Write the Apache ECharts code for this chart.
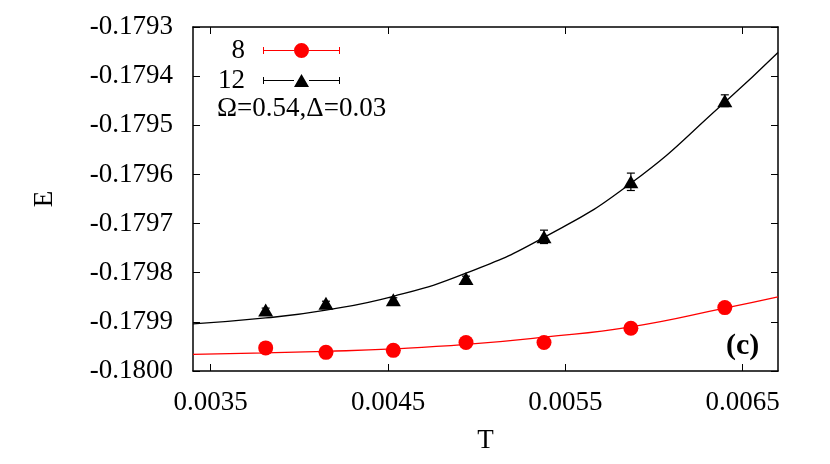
<!DOCTYPE html>
<html>
<head>
<meta charset="utf-8">
<script src="https://cdn.jsdelivr.net/npm/echarts@6/dist/echarts.min.js"></script>
<style>
html,body{margin:0;padding:0;background:#fff;}
#chart{width:830px;height:464px;}
</style>
</head>
<body>
<div id="chart"></div>
<script>
// ---- data ----
const T = [0.00381, 0.00415, 0.00453, 0.00494, 0.00538, 0.00587, 0.00640];
const E8 = [-0.179953, -0.179962, -0.179958, -0.179942, -0.179942, -0.179913, -0.179871];
const err8 = [0.000003, 0.000003, 0.000003, 0.000003, 0.000003, 0.000003, 0.000003];
const E12 = [-0.179876, -0.179862, -0.179855, -0.179812, -0.179727, -0.179615, -0.179450];
const err12 = [0.000004, 0.000004, 0.000004, 0.000005, 0.0000136, 0.0000177, 0.000012];
const fitT = [0.0034, 0.00381, 0.00415, 0.00453, 0.00494, 0.00538, 0.00587, 0.00640, 0.0067];
const fit8 = [-0.179966, -0.179963, -0.179960, -0.179955, -0.179946, -0.179931, -0.179910, -0.179872, -0.179849];
const fit12 = [-0.179904, -0.179892, -0.179876, -0.179848, -0.179801, -0.179728, -0.179618, -0.179453, -0.179352];
const xTicks = [0.0035, 0.0045, 0.0055, 0.0065];
const seriesNames = ['8', '12'];
const annotation = 'Ω=0.54,Δ=0.03';
const panelLabel = '(c)';

const FONT = 'Liberation Serif';
const FS = 27;

const pts = (xs, ys) => xs.map((x, i) => [x, ys[i]]);
const errs = (xs, ys, es) => xs.map((x, i) => [x, ys[i] - es[i], ys[i] + es[i]]);

function errorBar(color) {
  return function (params, api) {
    const x = api.value(0);
    const lo = api.coord([x, api.value(1)]);
    const hi = api.coord([x, api.value(2)]);
    const w = 4;
    const st = { stroke: color, lineWidth: 1.2 };
    return {
      type: 'group',
      children: [
        { type: 'line', shape: { x1: lo[0], y1: lo[1], x2: hi[0], y2: hi[1] }, style: st },
        { type: 'line', shape: { x1: lo[0] - w, y1: lo[1], x2: lo[0] + w, y2: lo[1] }, style: st },
        { type: 'line', shape: { x1: hi[0] - w, y1: hi[1], x2: hi[0] + w, y2: hi[1] }, style: st }
      ]
    };
  };
}

const redIcon = 'path://M0 7H31V8H0Z M46 7H77V8H46Z M0 4H1V11H0Z M76 4H77V11H76Z M31 7.5A7.5 7.5 0 1 0 46 7.5A7.5 7.5 0 1 0 31 7.5Z';
const blackIcon = 'path://M0 7H31V8H0Z M46 7H77V8H46Z M0 4H1V11H0Z M76 4H77V11H76Z M38.5 1L46 14H31Z';

const axisLineStyle = { color: '#000', width: 1.5 };
const chart = echarts.init(document.getElementById('chart'), null, { renderer: 'canvas' });
chart.setOption({
  animation: false,
  backgroundColor: '#fff',
  textStyle: { fontFamily: FONT },
  grid: { left: 193, right: 52, top: 27, bottom: 93, containLabel: false },
  legend: {
    orient: 'vertical',
    left: 213,
    top: 32,
    align: 'right',
    itemWidth: 77,
    itemHeight: 15,
    itemGap: 3,
    selectedMode: false,
    textStyle: { fontFamily: FONT, fontSize: FS, color: '#000', padding: [0, 13, 0, 0] },
    data: [
      { name: seriesNames[0], icon: redIcon, itemStyle: { color: '#ff0000' } },
      { name: seriesNames[1], icon: blackIcon, itemStyle: { color: '#000' } }
    ]
  },
  xAxis: [{
    type: 'value', min: 0.0034, max: 0.0067,
    name: 'T', nameLocation: 'middle', nameGap: 56,
    nameTextStyle: { fontFamily: FONT, fontSize: FS, color: '#000' },
    axisLine: { onZero: false, lineStyle: axisLineStyle },
    axisTick: { inside: true, length: 7, customValues: xTicks, lineStyle: { color: '#000', width: 1 } },
    axisLabel: { customValues: xTicks, margin: 18, fontFamily: FONT, fontSize: FS, color: '#000',
      formatter: v => v.toFixed(4) },
    splitLine: { show: false }
  }, {
    type: 'value', min: 0.0034, max: 0.0067, position: 'top',
    axisLine: { onZero: false, lineStyle: axisLineStyle },
    axisTick: { inside: true, length: 7, customValues: xTicks, lineStyle: { color: '#000', width: 1 } },
    axisLabel: { show: false },
    splitLine: { show: false }
  }],
  yAxis: [{
    type: 'value', min: -0.18, max: -0.1793, interval: 0.0001,
    name: 'E', nameLocation: 'middle', nameGap: 135, nameRotate: 90,
    nameTextStyle: { fontFamily: FONT, fontSize: FS, color: '#000' },
    axisLine: { onZero: false, lineStyle: axisLineStyle },
    axisTick: { inside: true, length: 7, lineStyle: { color: '#000', width: 1 } },
    axisLabel: { margin: 20, fontFamily: FONT, fontSize: FS, color: '#000',
      formatter: v => v.toFixed(4) },
    splitLine: { show: false }
  }, {
    type: 'value', min: -0.18, max: -0.1793, interval: 0.0001, position: 'right',
    axisLine: { onZero: false, lineStyle: axisLineStyle },
    axisTick: { inside: true, length: 7, lineStyle: { color: '#000', width: 1 } },
    axisLabel: { show: false },
    splitLine: { show: false }
  }],
  graphic: [
    { type: 'text', left: 217, top: 95, style: { text: annotation, font: FS + 'px "' + FONT + '"', fill: '#000' } },
    { type: 'text', left: 726, top: 331, style: { text: panelLabel, font: 'bold 30px "' + FONT + '"', fill: '#000' } }
  ],
  series: [
    { name: 'fit8', type: 'line', data: pts(fitT, fit8), showSymbol: false, smooth: 0.5,
      lineStyle: { color: '#ff0000', width: 1.3 }, itemStyle: { color: '#ff0000' }, silent: true, z: 2 },
    { name: 'fit12', type: 'line', data: pts(fitT, fit12), showSymbol: false, smooth: 0.5,
      lineStyle: { color: '#000', width: 1.3 }, itemStyle: { color: '#000' }, silent: true, z: 2 },
    { name: 'err8', type: 'custom', renderItem: errorBar('#ff0000'), data: errs(T, E8, err8), z: 3 },
    { name: 'err12', type: 'custom', renderItem: errorBar('#000'), data: errs(T, E12, err12), z: 3 },
    { name: seriesNames[0], type: 'scatter', data: pts(T, E8), symbol: 'circle', symbolSize: 15,
      itemStyle: { color: '#ff0000', opacity: 1 }, z: 4 },
    { name: seriesNames[1], type: 'scatter', data: pts(T, E12), symbol: 'triangle', symbolSize: [15, 13],
      itemStyle: { color: '#000', opacity: 1 }, z: 4 }
  ]
});
</script>
</body>
</html>
